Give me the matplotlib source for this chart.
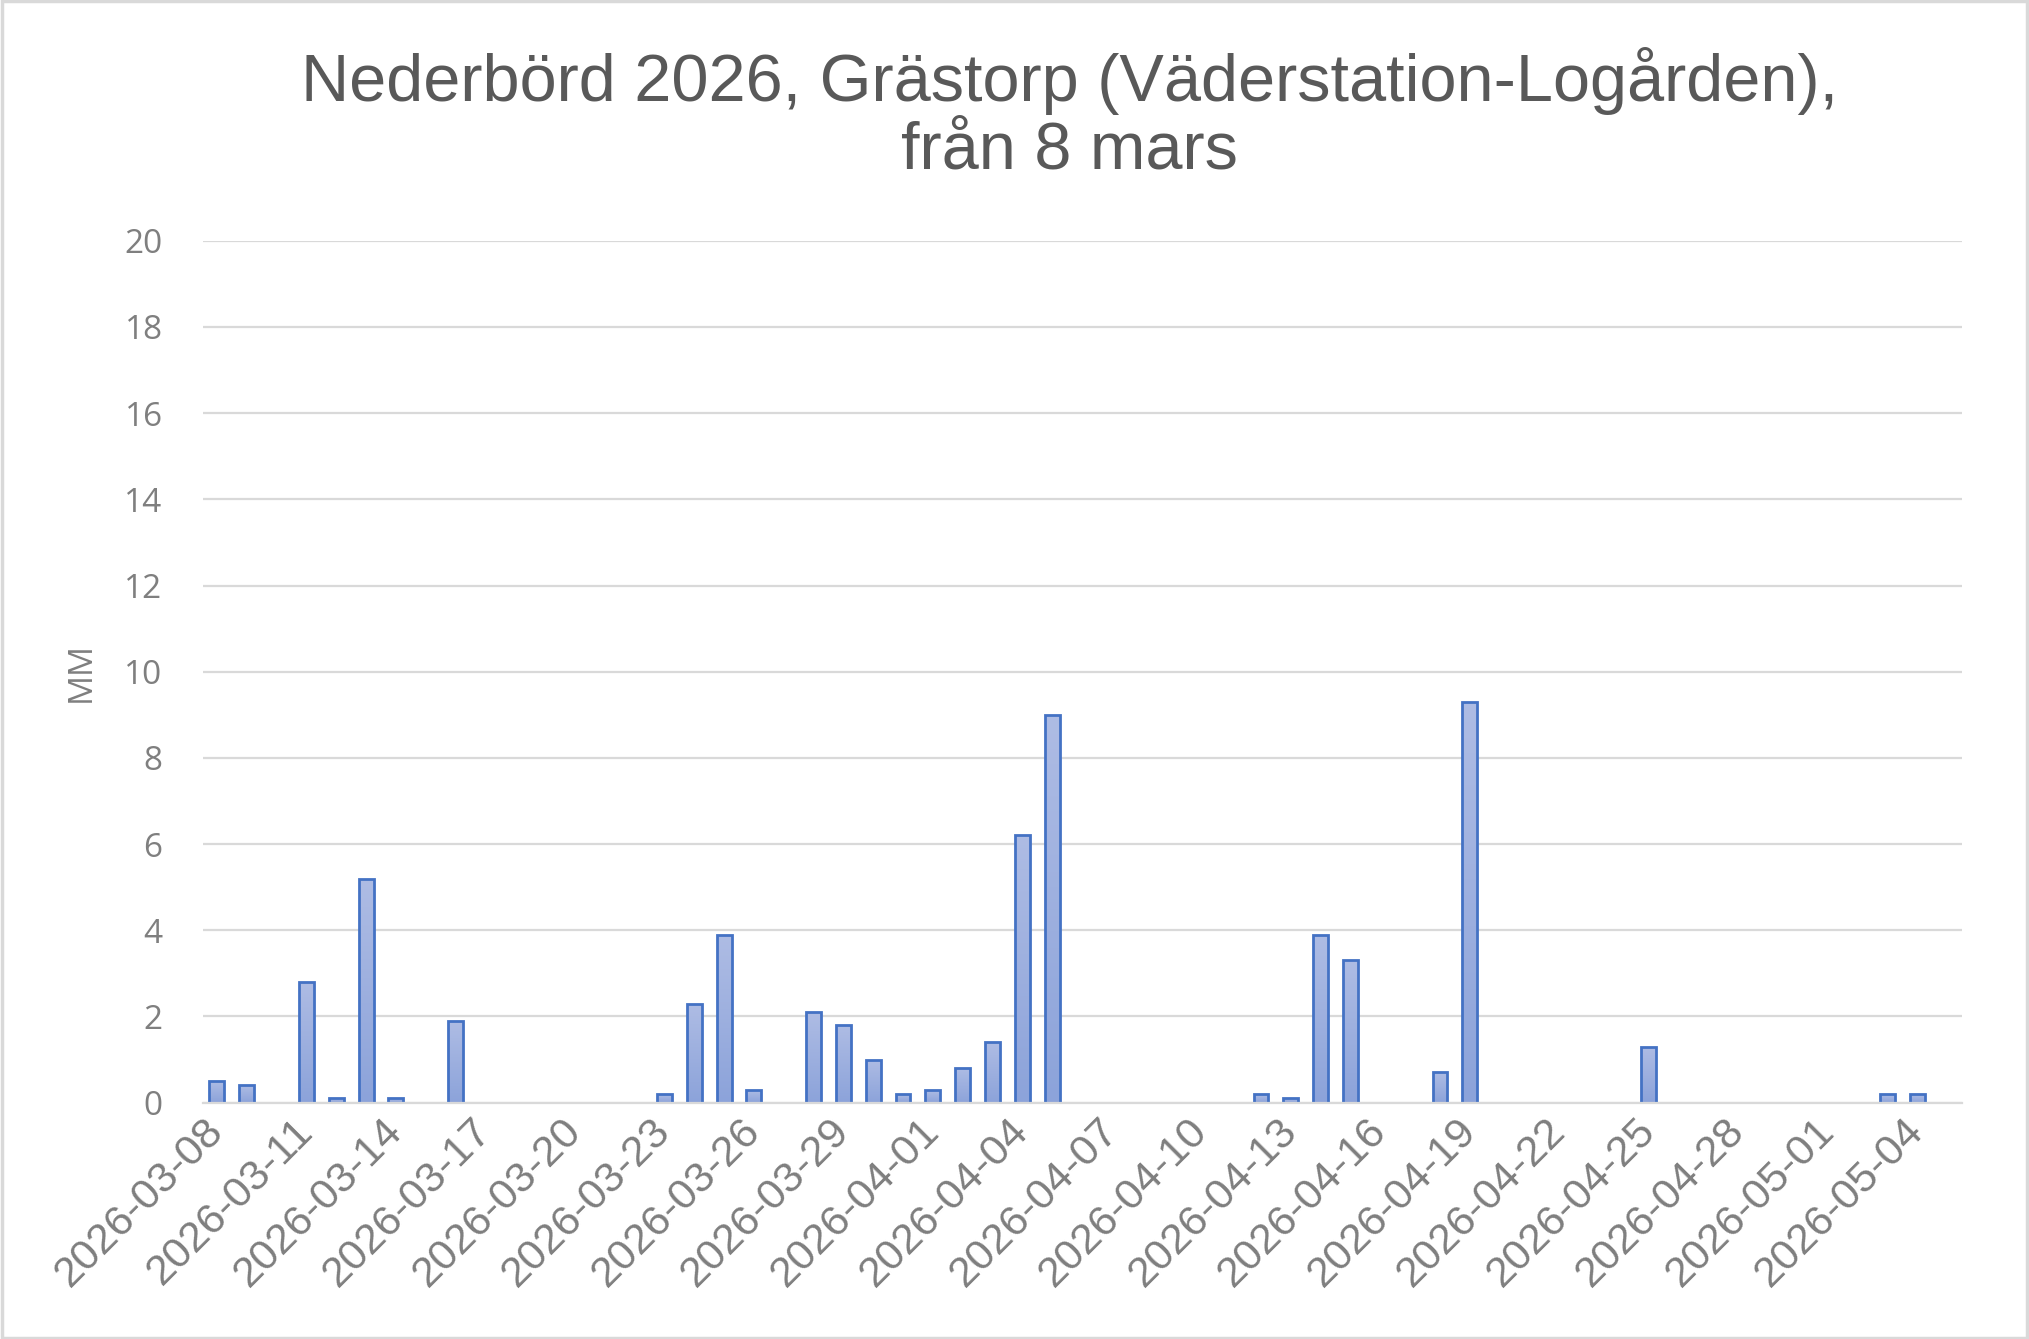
import matplotlib.pyplot as plt
import matplotlib.transforms as mtransforms
import numpy as np
import pandas as pd
from matplotlib.colors import LinearSegmentedColormap
from matplotlib.patches import Rectangle

# daily precipitation (mm), 2026-03-08 .. 2026-05-04
dates = pd.date_range('2026-03-08', '2026-05-04', freq='D').strftime('%Y-%m-%d').tolist()
values = [0.5, 0.4, 0, 2.8, 0.1, 5.2, 0.1, 0, 1.9, 0,
          0, 0, 0, 0, 0, 0.2, 2.3, 3.9, 0.3, 0,
          2.1, 1.8, 1.0, 0.2, 0.3, 0.8, 1.4, 6.2, 9.0, 0,
          0, 0, 0, 0, 0, 0.2, 0.1, 3.9, 3.3, 0,
          0, 0.7, 9.3, 0, 0, 0, 0, 0, 1.3, 0,
          0, 0, 0, 0, 0, 0, 0.2, 0.2]
yticks = list(range(0, 21, 2))

title_col = '#595959'
tick_col = '#7F7F7F'
grid_col = '#D9D9D9'
edge_col = '#4472C4'

fig = plt.figure(figsize=(20.29, 13.39), dpi=100)
ax = fig.add_axes([0.100, 0.1765, 0.867, 0.6437])

x = np.arange(len(dates))
lw = [2.0 if v > 0 else 0 for v in values]
bars = ax.bar(x, values, width=0.5, facecolor='none', edgecolor=edge_col, linewidth=lw, zorder=4)

# gradient fill inside each bar (light at top, a bit darker at bottom)
cmap = LinearSegmentedColormap.from_list('barfill', ['#8CA3DA', '#AEBCE4'])
grad = np.linspace(0, 1, 64).reshape(-1, 1)
for rect, v in zip(bars, values):
    if v <= 0:
        continue
    x0 = rect.get_x()
    im = ax.imshow(grad, extent=[x0, x0 + rect.get_width(), 0, v], origin='lower',
                   cmap=cmap, aspect='auto', zorder=3, interpolation='bilinear')
    im.set_clip_path(rect)

ax.set_xlim(-0.47, len(dates) - 1 + 1.5)
ax.set_ylim(0, 20)
ax.set_aspect('auto')

ax.set_yticks(yticks)
ax.set_yticklabels([str(t) for t in yticks], fontsize=24, color=tick_col, family='Open Sans')
ax.set_xticks(x[::3])
ax.set_xticklabels(dates[::3], rotation=45, ha='right', va='top', rotation_mode='anchor',
                   fontsize=31, color=tick_col, family='Liberation Sans')
ax.tick_params(axis='x', length=0, pad=6)
ax.tick_params(axis='y', length=0, pad=29)
shift = mtransforms.ScaledTranslation(-0.14, 0, fig.dpi_scale_trans)
for lab in ax.get_xticklabels():
    lab.set_transform(lab.get_transform() + shift)

ax.grid(axis='y', color=grid_col, linewidth=1.6, zorder=0)
for s in ['top', 'right', 'left']:
    ax.spines[s].set_visible(False)
ax.spines['bottom'].set_color(grid_col)
ax.spines['bottom'].set_linewidth(1.6)
ax.spines['bottom'].set_zorder(5)

ax.set_ylabel('MM', fontsize=24, color=tick_col, family='Open Sans')
ax.yaxis.set_label_coords(-0.060, 0.5)

fig.text(0.527, 0.9246, 'Nederbörd 2026, Grästorp (Väderstation-Logården),',
         ha='center', va='baseline', fontsize=48, color=title_col, family='Liberation Sans')
fig.text(0.527, 0.8738, 'från 8 mars',
         ha='center', va='baseline', fontsize=48, color=title_col, family='Liberation Sans')

fig.patches.append(Rectangle((0.001, 0.001), 0.998, 0.998, transform=fig.transFigure,
                             fill=False, edgecolor=grid_col, linewidth=2.5))

fig.savefig('out.png', dpi=100)
